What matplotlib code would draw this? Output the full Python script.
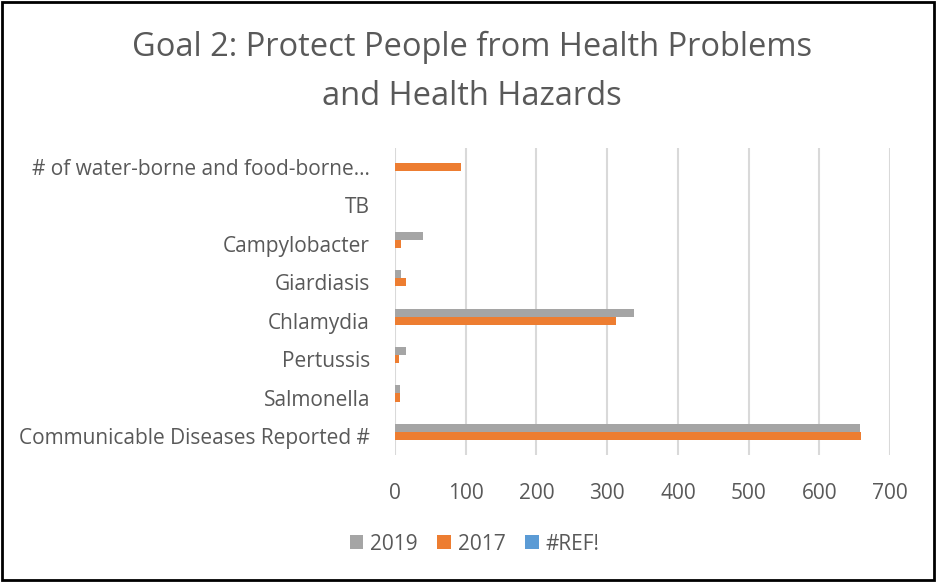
import matplotlib.pyplot as plt
import numpy as np
from matplotlib.patches import Rectangle

plt.rcParams['font.family'] = ['Open Sans', 'DejaVu Sans']

categories = ['Communicable Diseases Reported #', 'Salmonella', 'Pertussis',
              'Chlamydia', 'Giardiasis', 'Campylobacter', 'TB',
              '# of water-borne and food-borne\u2026']
vals_2019 = [657, 7, 15, 338, 8, 40, 0, 0]
vals_2017 = [659, 7, 5, 313, 16, 8, 0, 93]
vals_ref = [0, 0, 0, 0, 0, 0, 0, 0]
xticks = [0, 100, 200, 300, 400, 500, 600, 700]

text_color = '#595959'

fig = plt.figure(figsize=(9.36, 5.82), dpi=100)
ax = fig.add_axes([0.422, 0.218, 0.529, 0.528])

y = np.arange(len(categories))
h = 0.21
ax.barh(y + h, vals_2019, height=h, color='#A5A5A5', label='2019')
ax.barh(y, vals_2017, height=h, color='#ED7D31', label='2017')
ax.barh(y - h, vals_ref, height=h, color='#5B9BD5', label='#REF!')

ax.set_xlim(0, 700)
ax.set_ylim(-0.5, len(categories) - 0.5)
ax.set_xticks(xticks)
ax.set_yticks(y)
ax.set_yticklabels(categories)
ax.tick_params(axis='both', length=0, labelsize=15, colors=text_color)
ax.tick_params(axis='x', pad=20)
ax.tick_params(axis='y', pad=18)
ax.grid(axis='x', color='#D9D9D9', linewidth=1.5)
ax.set_axisbelow(True)
for s in ax.spines.values():
    s.set_visible(False)

fig.text(0.504, 0.918, 'Goal 2: Protect People from Health Problems',
         ha='center', va='center', fontsize=23.5, color=text_color)
fig.text(0.504, 0.835, 'and Health Hazards',
         ha='center', va='center', fontsize=23.5, color=text_color)

fig.legend(loc='center', bbox_to_anchor=(0.507, 0.065), ncol=3, frameon=False,
           fontsize=15, handlelength=0.65, handleheight=0.65, columnspacing=0.95,
           handletextpad=0.33, labelcolor=text_color)

fig.patches.append(Rectangle((0.002, 0.003), 0.996, 0.994, transform=fig.transFigure,
                             fill=False, edgecolor='black', linewidth=2))

fig.savefig('out.png', dpi=100)
